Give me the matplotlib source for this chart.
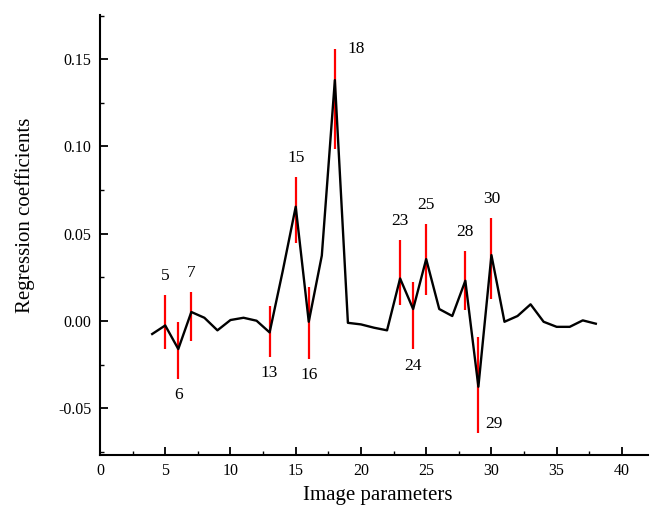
import matplotlib
matplotlib.use("Agg")
import matplotlib.pyplot as plt
from matplotlib.ticker import MultipleLocator, FormatStrFormatter

# ---- data ----
params = list(range(4, 39))
coefs = [-0.0074, -0.0025, -0.0160, 0.0052, 0.0019, -0.0053, 0.0006, 0.0019,
         0.0002, -0.0065, 0.0285, 0.0655, -0.0004, 0.0375, 0.1380, -0.0010,
         -0.0019, -0.0038, -0.0053, 0.0244, 0.0069, 0.0355, 0.0069, 0.0029,
         0.0231, -0.0376, 0.0378, -0.0004, 0.0029, 0.0096, -0.0004, -0.0033,
         -0.0033, 0.0004, -0.0015]

sel_params = [5, 6, 7, 13, 15, 16, 18, 23, 24, 25, 28, 29, 30]
sel_low = [-0.0162, -0.0332, -0.0113, -0.0204, 0.0449, -0.0218, 0.0983,
           0.0092, -0.0162, 0.0149, 0.0063, -0.0640, 0.0126]
sel_high = [0.0149, -0.0008, 0.0168, 0.0086, 0.0827, 0.0197, 0.1560,
            0.0464, 0.0222, 0.0554, 0.0401, -0.0090, 0.0588]
label_side = ["top", "bottom", "top", "bottom", "top", "bottom", "right_top",
              "top", "bottom", "top", "top", "right_bottom", "top"]

x_ticks = [0, 5, 10, 15, 20, 25, 30, 35, 40]
y_ticks = [-0.05, 0.00, 0.05, 0.10, 0.15]

# ---- figure ----
plt.rcParams['font.family'] = ['Liberation Serif', 'DejaVu Serif']
fig = plt.figure(figsize=(6.52, 5.09), dpi=100)
ax = fig.add_axes([100 / 652, 1 - 455 / 509, 548 / 652, 440 / 509])

ax.vlines(sel_params, sel_low, sel_high, color='#ff0000', lw=1.6, zorder=2)
ax.plot(params, coefs, color='black', lw=1.7, zorder=3)

for p, lo, hi, side in zip(sel_params, sel_low, sel_high, label_side):
    if side == "top":
        ax.annotate(str(p), (p, hi), xytext=(0, 8), textcoords='offset points',
                    ha='center', va='bottom', fontsize=12.5)
    elif side == "bottom":
        ax.annotate(str(p), (p, lo), xytext=(0, -6), textcoords='offset points',
                    ha='center', va='top', fontsize=12.5)
    elif side == "right_top":
        ax.annotate(str(p), (p, hi), xytext=(9, 0), textcoords='offset points',
                    ha='left', va='center', fontsize=12.5)
    else:
        ax.annotate(str(p), (p, lo), xytext=(5, 6), textcoords='offset points',
                    ha='left', va='center', fontsize=12.5)

ax.set_xlim(0, 42)
ax.set_ylim(-0.0767, 0.1753)
ax.set_xticks(x_ticks)
ax.set_yticks(y_ticks)
ax.xaxis.set_minor_locator(MultipleLocator(2.5))
ax.yaxis.set_minor_locator(MultipleLocator(0.025))
ax.yaxis.set_major_formatter(FormatStrFormatter('%.2f'))

for s in ['top', 'right']:
    ax.spines[s].set_visible(False)
for s in ['left', 'bottom']:
    ax.spines[s].set_linewidth(1.5)

ax.tick_params(which='major', direction='in', length=6, width=1.3,
               labelsize=11.5, colors='black')
ax.tick_params(axis='x', which='major', pad=6)
ax.tick_params(axis='y', which='major', pad=6)
ax.tick_params(which='minor', direction='in', length=3, width=1.0)

ax.set_xlabel('Image parameters', fontsize=15)
ax.set_ylabel('Regression coefficients', fontsize=15)
ax.xaxis.set_label_coords(0.507, -0.07)
ax.yaxis.set_label_coords(-0.118, 0.545)

fig.savefig('out.png', dpi=100)
